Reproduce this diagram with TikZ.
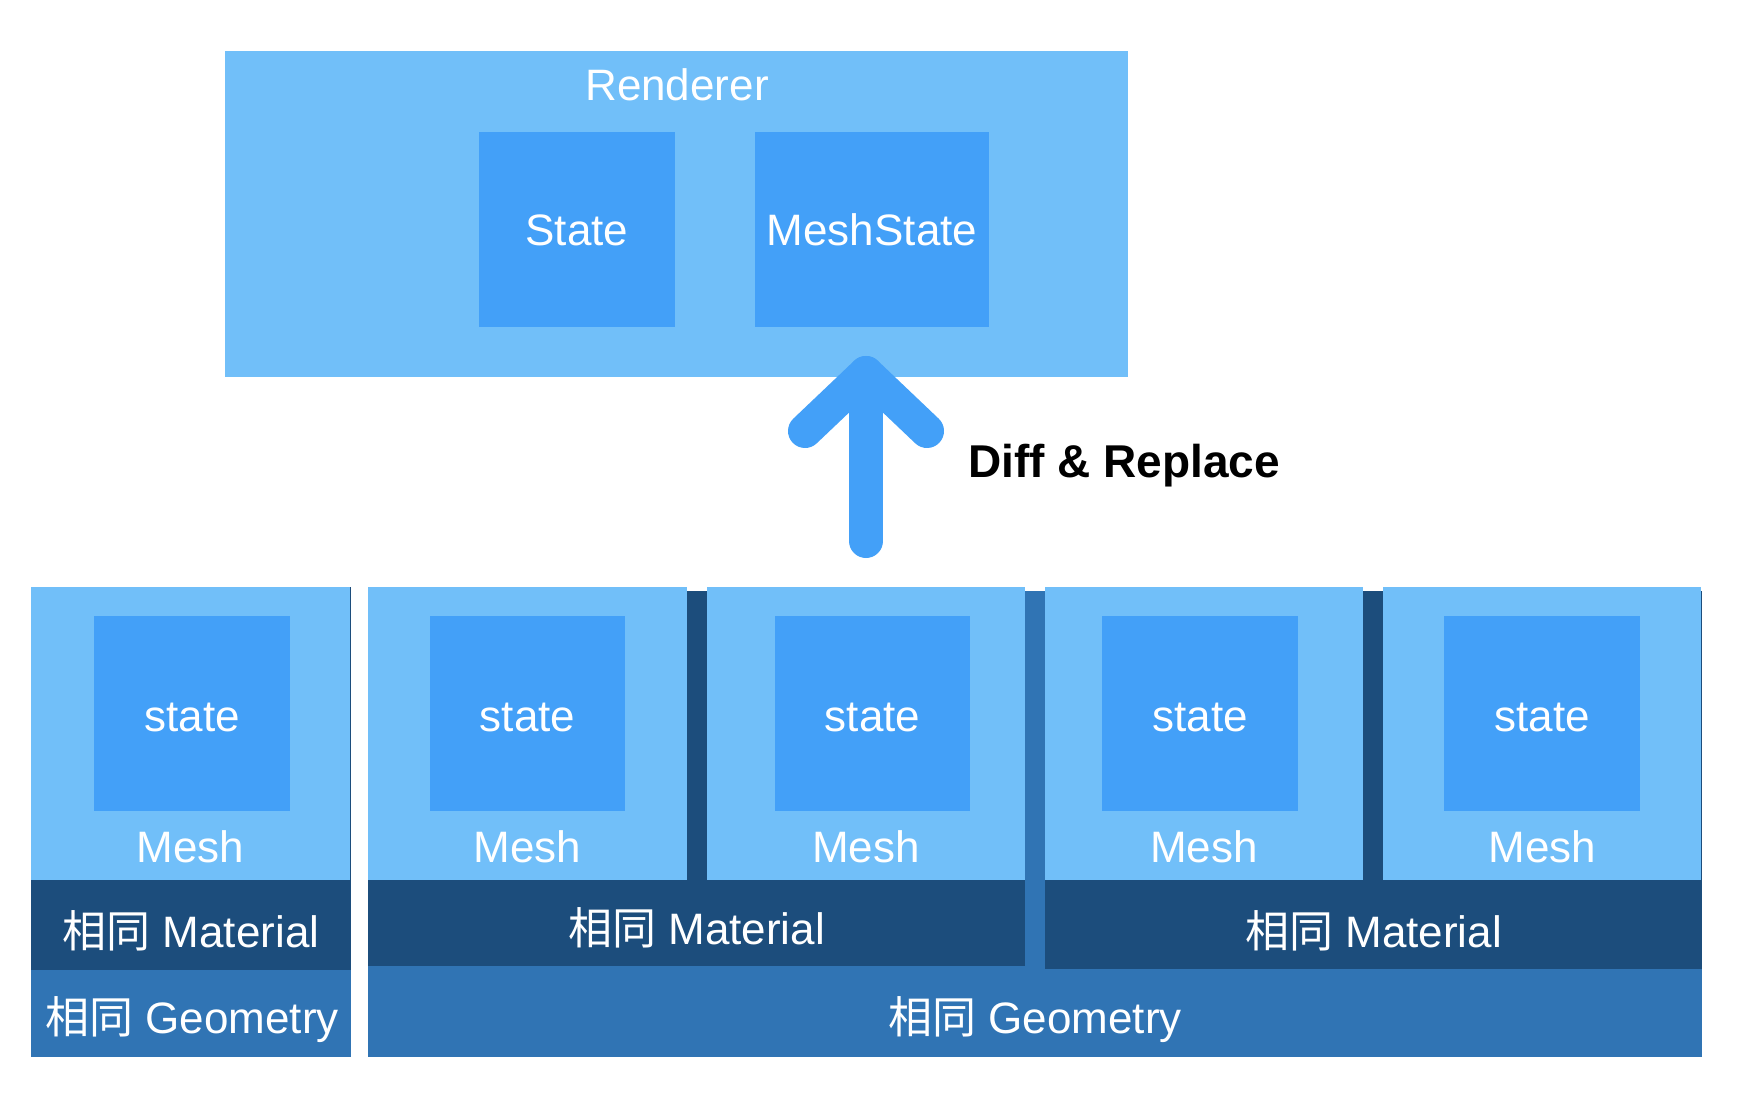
\documentclass[tikz,border=0pt]{standalone}
\usepackage{fontspec}
\setmainfont{Liberation Sans}
\newfontfamily\cjk{Noto Sans CJK SC}
\definecolor{lightblue}{RGB}{113,191,249}
\definecolor{innerblue}{RGB}{67,160,248}
\definecolor{darkblue}{RGB}{28,77,124}
\definecolor{geoblue}{RGB}{48,116,180}
\begin{document}
\begin{tikzpicture}[x=1pt,y=-1pt,
  box/.style={inner sep=0pt, outer sep=0pt, draw=none, anchor=north west},
  lightbox/.style={box, fill=lightblue},
  innerbox/.style={box, fill=innerblue},
  matbox/.style={box, fill=darkblue},
  geobox/.style={box, fill=geoblue},
  txt/.style={text=white, inner sep=0pt, anchor=base, font=\fontsize{44}{50}\selectfont},
  boldtxt/.style={text=black, inner sep=0pt, anchor=base west, font=\fontsize{46}{52}\selectfont\bfseries},
  arrowline/.style={draw=innerblue, line width=34pt, line cap=round, line join=round}
]
\useasboundingbox (0,0) rectangle (1756,1094);
\fill[white] (0,0) rectangle (1756,1094);

% Renderer
\node[lightbox, minimum width=903pt, minimum height=326pt] (renderer) at (225,51) {};
\node[innerbox, minimum width=196pt, minimum height=195pt] (stateR) at (479,132) {};
\node[innerbox, minimum width=234pt, minimum height=195pt] (meshstateR) at (755,132) {};
\node[txt] (renderertxt) at (677,101) {Renderer};
\node[txt] (statetxt) at (577,246) {State};
\node[txt] (meshstatetxt) at (872,246) {MeshState};

% Geometry layers
\node[geobox, minimum width=320pt, minimum height=97pt] (geo1) at (31,960) {};
\node[geobox, minimum width=1334pt, minimum height=466pt] (geo2) at (368,591) {};
% Material layers
\node[matbox, minimum width=320pt, minimum height=383pt] (mat1) at (31,587) {};
\node[matbox, minimum width=657pt, minimum height=375pt] (mat2) at (368,591) {};
\node[matbox, minimum width=657pt, minimum height=378pt] (mat3) at (1045,591) {};
% Meshes
\node[lightbox, minimum width=319pt, minimum height=293pt] (mesh1) at (31,587) {};
\node[lightbox, minimum width=319pt, minimum height=293pt] (mesh2) at (368,587) {};
\node[lightbox, minimum width=318pt, minimum height=293pt] (mesh3) at (707,587) {};
\node[lightbox, minimum width=318pt, minimum height=293pt] (mesh4) at (1045,587) {};
\node[lightbox, minimum width=318pt, minimum height=293pt] (mesh5) at (1383,587) {};
% States
\node[innerbox, minimum width=196pt, minimum height=195pt] (st1) at (94,616) {};
\node[innerbox, minimum width=195pt, minimum height=195pt] (st2) at (430,616) {};
\node[innerbox, minimum width=195pt, minimum height=195pt] (st3) at (775,616) {};
\node[innerbox, minimum width=196pt, minimum height=195pt] (st4) at (1102,616) {};
\node[innerbox, minimum width=196pt, minimum height=195pt] (st5) at (1444,616) {};

% Texts
\node[txt] (st1txt) at (192,731) {state};
\node[txt] (st2txt) at (527.5,731) {state};
\node[txt] (st3txt) at (872.5,731) {state};
\node[txt] (st4txt) at (1200,731) {state};
\node[txt] (st5txt) at (1542,731) {state};
\node[txt] (m1txt) at (190.5,862) {Mesh};
\node[txt] (m2txt) at (527.5,862) {Mesh};
\node[txt] (m3txt) at (866,862) {Mesh};
\node[txt] (m4txt) at (1204,862) {Mesh};
\node[txt] (m5txt) at (1542.5,862) {Mesh};
\node[txt] (mat1txt) at (191,947) {{\cjk 相同} Material};
\node[txt] (mat2txt) at (696.5,944) {{\cjk 相同} Material};
\node[txt] (mat3txt) at (1373.5,947) {{\cjk 相同} Material};
\node[txt] (geo1txt) at (192,1033) {{\cjk 相同} Geometry};
\node[txt] (geo2txt) at (1035,1033) {{\cjk 相同} Geometry};

% Arrow
\coordinate (tail) at (866,541);
\coordinate (tip) at (866,373);
\coordinate (wingL) at (805,431);
\coordinate (wingR) at (927,431);
\draw[arrowline] (tail) -- (tip);
\draw[arrowline] (wingL) -- (tip) -- (wingR);
\node[boldtxt] (difftxt) at (968,477) {Diff \& Replace};
\end{tikzpicture}
\end{document}
